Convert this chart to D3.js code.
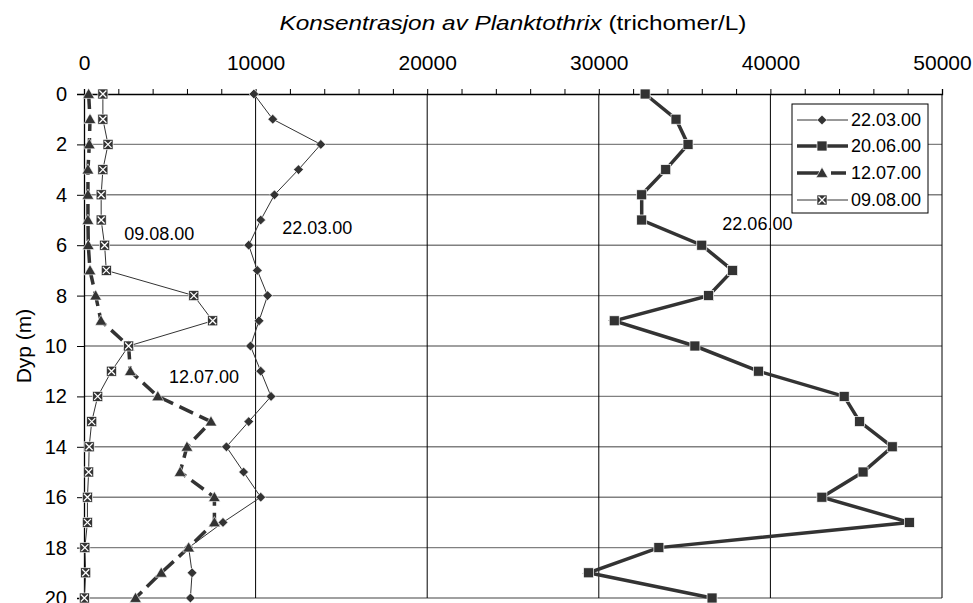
<!DOCTYPE html>
<html><head><meta charset="utf-8">
<script src="https://cdn.jsdelivr.net/npm/d3@7"></script>
<style>
body{margin:0;background:#fff;}
svg{display:block;font-family:"Liberation Sans",Arial,sans-serif;}
</style></head>
<body>
<svg id="c" width="973" height="603"></svg>
<script>
const depths = [0,1,2,3,4,5,6,7,8,9,10,11,12,13,14,15,16,17,18,19,20];
const s2203 = [9900,11000,13800,12500,11100,10300,9600,10100,10700,10200,9700,10300,10900,9600,8300,9300,10300,8100,6100,6300,6200];
const s2006 = [32700,34500,35200,33900,32500,32500,36000,37800,36400,30900,35600,39300,44300,45200,47100,45400,43000,48100,33500,29400,36600];
const s1207 = [270,350,310,230,230,230,250,350,680,990,2600,2700,4300,7400,6000,5600,7600,7600,6100,4500,3000];
const s0908 = [1100,1100,1400,1100,1000,1000,1200,1300,6400,7500,2600,1600,800,450,300,270,200,200,50,100,20];
const seriesNames = ["22.03.00","20.06.00","12.07.00","09.08.00"];
const xTicks = [0,10000,20000,30000,40000,50000];
const yTicks = [0,2,4,6,8,10,12,14,16,18,20];
const annotations = [
  {text:"09.08.00", x:2350, y:5.55},
  {text:"22.03.00", x:11550, y:5.3},
  {text:"22.06.00", x:37200, y:5.15},
  {text:"12.07.00", x:4950, y:11.2}
];

const svg = d3.select("#c");
const x = d3.scaleLinear().domain([0,50000]).range([84,942]);
const y = d3.scaleLinear().domain([0,20]).range([94,598]);
const ink = "#333333";
const FF = "Liberation Sans, Arial, sans-serif";

// horizontal gridlines
svg.append("g").selectAll("line").data(yTicks.slice(1)).join("line")
  .attr("x1",x(0)).attr("x2",x(50000)).attr("y1",d=>y(d)).attr("y2",d=>y(d))
  .attr("stroke","#808080").attr("stroke-width",1.4);
// vertical gridlines
svg.append("g").selectAll("line").data(xTicks.slice(1)).join("line")
  .attr("x1",d=>x(d)).attr("x2",d=>x(d)).attr("y1",y(0)).attr("y2",y(20))
  .attr("stroke","#000").attr("stroke-width",1);

// top axis minor ticks
const minor = d3.range(0,50001,2000);
svg.append("g").attr("transform",`translate(0,${y(0)})`)
  .call(d3.axisTop(x).tickValues(minor).tickSize(5).tickFormat(""))
  .call(g=>g.select(".domain").attr("stroke","#000").attr("stroke-width",1.3));
// top axis labels
svg.append("g").attr("transform",`translate(0,${y(0)})`)
  .call(d3.axisTop(x).tickValues(xTicks).tickSize(0).tickPadding(24).tickFormat(d3.format("d")))
  .call(g=>g.select(".domain").remove())
  .call(g=>g.selectAll("text").attr("font-size",21).attr("fill","#000").attr("font-family",FF));

// left axis
svg.append("g").attr("transform",`translate(${x(0)},0)`)
  .call(d3.axisLeft(y).tickValues(yTicks).tickSize(7).tickPadding(10).tickFormat(d3.format("d")))
  .call(g=>g.select(".domain").attr("stroke","#000").attr("stroke-width",1.3))
  .call(g=>g.selectAll("text").attr("font-size",20).attr("fill","#000").attr("font-family",FF));

// titles
const t = svg.append("text").attr("x",513).attr("y",30).attr("text-anchor","middle").attr("font-size",21)
  .attr("textLength",467).attr("lengthAdjust","spacingAndGlyphs");
t.append("tspan").attr("font-style","italic").text("Konsentrasjon av Planktothrix");
t.append("tspan").text(" (trichomer/L)");
svg.append("text").attr("transform",`translate(24,${y(10)}) rotate(-90)`)
  .attr("text-anchor","middle").attr("dy","0.35em").attr("font-size",21).text("Dyp (m)");

const line = d3.line().x(d=>x(d[0])).y(d=>y(d[1]));
function pts(vals){return vals.map((v,i)=>[v,depths[i]]);}

const diamond = d3.symbol().type(d3.symbolDiamond2).size(60);
const tri = d3.symbol().type(d3.symbolTriangle).size(60);

function drawMarkers(data, kind){
  const g = svg.append("g");
  data.forEach(p=>{
    const cx = x(p[0]), cy = y(p[1]);
    if(kind==="diamond"){
      g.append("path").attr("d",diamond()).attr("transform",`translate(${cx},${cy})`).attr("fill",ink).attr("stroke","#fff").attr("stroke-width",0.6);
    } else if(kind==="square"){
      g.append("rect").attr("x",cx-5).attr("y",cy-5).attr("width",10).attr("height",10).attr("fill",ink).attr("stroke","#fff").attr("stroke-width",0.7);
    } else if(kind==="tri"){
      g.append("path").attr("d",tri()).attr("transform",`translate(${cx},${cy+1})`).attr("fill",ink).attr("stroke","#fff").attr("stroke-width",0.6);
    } else if(kind==="xbox"){
      g.append("rect").attr("x",cx-5).attr("y",cy-5).attr("width",10).attr("height",10).attr("fill",ink).attr("stroke","#fff").attr("stroke-width",0.6);
      g.append("path").attr("d",`M${cx-3.5},${cy-3.5}L${cx+3.5},${cy+3.5}M${cx+3.5},${cy-3.5}L${cx-3.5},${cy+3.5}`).attr("stroke","#fff").attr("stroke-width",1.3);
    }
  });
}

// series lines
svg.append("path").datum(pts(s2203)).attr("d",line).attr("fill","none").attr("stroke",ink).attr("stroke-width",1);
svg.append("path").datum(pts(s0908)).attr("d",line).attr("fill","none").attr("stroke",ink).attr("stroke-width",1);
svg.append("path").datum(pts(s1207)).attr("d",line).attr("fill","none").attr("stroke",ink).attr("stroke-width",3.5).attr("stroke-dasharray","15,7");
svg.append("path").datum(pts(s2006)).attr("d",line).attr("fill","none").attr("stroke",ink).attr("stroke-width",3.5);

drawMarkers(pts(s2203),"diamond");
drawMarkers(pts(s1207),"tri");
drawMarkers(pts(s0908),"xbox");
drawMarkers(pts(s2006),"square");

// annotations
svg.append("g").selectAll("text").data(annotations).join("text")
  .attr("x",d=>x(d.x)).attr("y",d=>y(d.y)).attr("dy","0.35em").attr("font-size",18).attr("fill","#000").text(d=>d.text);

// legend
const lg = svg.append("g");
lg.append("rect").attr("x",792).attr("y",104).attr("width",136).attr("height",109).attr("fill","#fff").attr("stroke","#000").attr("stroke-width",1);
const legY = [120,146,173,200];
const kinds = ["diamond","square","tri","xbox"];
const widths = [1,3.5,3.5,1];
const dashes = [null,null,"22,12,15",null];
seriesNames.forEach((n,i)=>{
  const yy = legY[i];
  const l = lg.append("path").attr("d",`M797,${yy}L848,${yy}`).attr("stroke",ink).attr("stroke-width",widths[i]).attr("fill","none");
  if(dashes[i]) l.attr("stroke-dasharray",dashes[i]);
  drawMarkers([[x.invert(822),y.invert(yy)]],kinds[i]);
  lg.append("text").attr("x",851).attr("y",yy).attr("dy","0.35em").attr("font-size",18).text(n);
});
</script>
</body></html>
